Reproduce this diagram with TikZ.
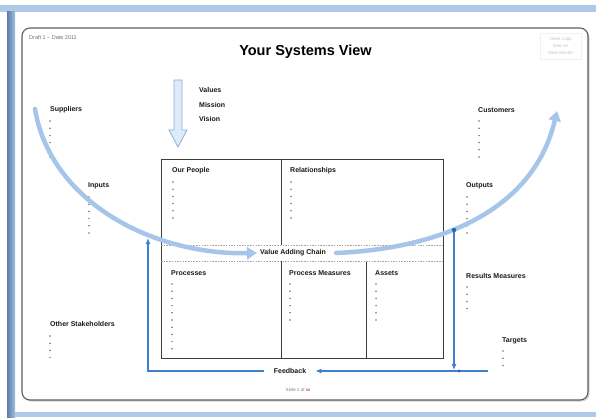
\documentclass[tikz,border=0pt]{standalone}
\usepackage{fontspec}
\setmainfont{Liberation Sans}
\usetikzlibrary{arrows.meta}
\definecolor{topbar}{HTML}{AFC9E8}
\definecolor{leftbar}{HTML}{6A93C9}
\definecolor{slideln}{HTML}{5E5E5E}
\definecolor{bigarrow}{HTML}{A6C5EA}
\definecolor{bigarrowdk}{HTML}{8DB2DE}
\definecolor{fbblue}{HTML}{3F7FCF}
\definecolor{fbdot}{HTML}{2B65B8}
\definecolor{downfill}{HTML}{DDEAF8}
\definecolor{downline}{HTML}{8CB0DA}
\definecolor{bulletc}{HTML}{707070}
\definecolor{boxln}{HTML}{3C3C3C}
\definecolor{dashln}{HTML}{A8A8A8}
\definecolor{faint}{HTML}{C4C4C4}
\begin{document}
\begin{tikzpicture}[x=1pt,y=-1pt,
  lbl/.style={font=\bfseries\fontsize{7}{8}\selectfont, anchor=west, inner sep=0pt, text=black!90},
  bigarr/.style={line width=4.5pt, color=bigarrow, line cap=round, -{Triangle[width=12pt,length=10pt]}},
  fbline/.style={line width=1.4pt, color=fbblue},
  fbtip/.style={-{Latex[length=6pt,width=5pt]}},
  boxline/.style={line width=0.9pt, color=boxln},
  dashline/.style={line width=0.7pt, color=dashln, dash pattern=on 1.5pt off 1.2pt}
]
\useasboundingbox (0,0) rectangle (596,417);
% frame
\fill[white] (0,0) rectangle (596,417);
\fill[topbar] (0,5) rectangle (596,12);
\shade[left color=leftbar!85!black, right color=leftbar!60!white] (7,12) rectangle (15,417);
\fill[topbar] (15,412) rectangle (596,417);
% slide
\fill[black!18, rounded corners=8pt] (23.5,29.5) rectangle (589.5,401.5);
\draw[slideln, line width=1.1pt, fill=white, rounded corners=8pt] (22,28) rectangle (588,400);

% header texts
\node[anchor=west, inner sep=0pt, text=black!55, font=\fontsize{5.5}{6}\selectfont] (draft) at (29,38) {Draft 1 – Date 2011};
\node[inner sep=0pt, font=\bfseries\fontsize{14.5}{16}\selectfont] (title) at (305.5,52) {Your Systems View};
\node[draw=black!6, line width=0.5pt, minimum width=41pt, minimum height=26pt, inner sep=0pt, align=center, text=faint, font=\fontsize{4.5}{7}\selectfont] (logo) at (560.5,46) {Insert Logo\\here on\\Slide Master};

% central box
\draw[boxline] (161,159) rectangle (443,358);
\draw[boxline] (281,159) -- (281,245);
\draw[boxline] (281,261) -- (281,358);
\draw[boxline] (366,261) -- (366,358);
\draw[dashline] (161,245) -- (443,245);
\draw[dashline] (161,261) -- (443,261);

% down arrow
\draw[fill=downfill, draw=downline, line width=0.8pt, line join=miter]
  (174,80) -- (182,80) -- (182,130) -- (187,130) -- (178,147) -- (169,130) -- (174,130) -- cycle;

% labels
\node[lbl] (values) at (199,90) {Values};
\node[lbl] (mission) at (199,105) {Mission};
\node[lbl] (vision) at (199,119) {Vision};
\node[lbl] (suppliers) at (50,110) {Suppliers};
\node[lbl] (customers) at (478,110) {Customers};
\node[lbl] (inputs) at (88,186) {Inputs};
\node[lbl] (outputs) at (466,186) {Outputs};
\node[lbl] (people) at (172,171) {Our People};
\node[lbl] (relations) at (290,171) {Relationships};
\node[lbl] (processes) at (171,273) {Processes};
\node[lbl] (pmeasures) at (289,273) {Process Measures};
\node[lbl] (assets) at (375,273) {Assets};
\node[lbl] (results) at (466,276) {Results Measures};
\node[lbl] (targets) at (502,341) {Targets};
\node[lbl] (others) at (50,324) {Other Stakeholders};
\node[lbl, anchor=center] (vac) at (293,253) {Value Adding Chain};
\node[lbl, anchor=center] (fb) at (290,371) {Feedback};
\node[inner sep=0pt, text=black!50, font=\fontsize{4.5}{5}\selectfont] (slideno) at (298,390) {Slide 1 of \textcolor{red!70!black}{xx}};

% bullets
\foreach \x/\y/\n in {50/121/5, 479/121/5, 89/197/5, 467/197/5, 173/182/5, 291/182/5,
                      172/284/9, 290/284/5, 376/284/5, 467/287/3, 503/351/2, 50/336/3}{
  \foreach \i in {0,...,\n}{
    \fill[bulletc] (\x,\y+7.2*\i) circle (0.85pt);
  }
}

% big curved arrows
\coordinate (supstart) at (35,109);
\coordinate (custtip) at (557,111);
\draw[bigarr] (supstart) .. controls (50,200) and (150,255) .. ([xshift=-3pt]vac.west);
\draw[bigarr] ([xshift=10pt]vac.east) .. controls (450,248) and (535,205) .. (custtip);

% feedback connectors
\coordinate (outpt) at (454,230);
\coordinate (vend) at (454,370);
\coordinate (fbright) at (488,371);
\coordinate (fbjoin) at (459,371);
\coordinate (lcorner) at (148,371);
\coordinate (ltip) at (148,238);
\draw[fbline, fbtip] (outpt) -- (vend);
\draw[fbline, fbtip, shorten >=9pt] (fbright) -- (fb.east);
\draw[fbline, fbtip, shorten <=10pt] (fb.west) -- (lcorner) -- (ltip);
\fill[fbdot] (outpt) circle (2.2pt);
\fill[fbdot] (fbjoin) circle (1.6pt);
\end{tikzpicture}
\end{document}
